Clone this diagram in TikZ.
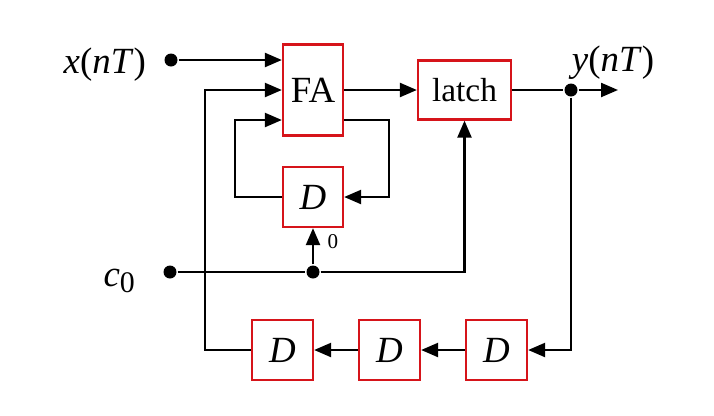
\documentclass[tikz,border=0pt]{standalone}
\usepackage{fontspec}
\setmainfont{Liberation Serif}
\definecolor{boxred}{RGB}{214,20,26}
\usetikzlibrary{arrows.meta, positioning, calc}

\begin{document}
\begin{tikzpicture}[
        line width=1.3pt,
        blk/.style={draw=boxred, fill=white, line width=1.3pt, inner sep=0pt,
                    font=\fontsize{21}{23}\selectfont},
        arr/.style={-{Triangle[length=0.34cm, width=0.28cm]}},
        dot/.style={circle, fill=black, inner sep=0pt, minimum size=0.26cm},
        lbl/.style={inner sep=0pt, font=\fontsize{21}{23}\selectfont}
      ]
        \useasboundingbox (0,0) rectangle (14.28,8.3);
        % blocks
        \node[blk, minimum width=1.2cm, minimum height=1.82cm] (fa) at (6.26,6.5) {FA};
        \node[blk, minimum width=1.86cm, minimum height=1.18cm,
              font=\fontsize{19}{21}\selectfont] (latch) at (9.29,6.5) {latch};
        \node[blk, minimum size=1.2cm] (dfb) at (6.26,4.36) {\textit{D}};
        \node[blk, minimum width=1.22cm, minimum height=1.2cm] (d3) at (9.93,1.3) {\textit{D}};
        \node[blk, minimum width=1.22cm, minimum height=1.2cm] (d2) at (7.79,1.3) {\textit{D}};
        \node[blk, minimum width=1.22cm, minimum height=1.2cm] (d1) at (5.65,1.3) {\textit{D}};
        % inputs and output
        \node[dot] (xin) at (3.42,7.1) {};
        \node[lbl, anchor=east] (xlbl) at (2.94,7.0) {\textit{x}(\textit{nT})};
        \node[dot] (cin) at (3.4,2.86) {};
        \node[lbl, anchor=east] (clbl) at (2.72,2.68)
          {\textit{c}\raisebox{-0.12cm}{\fontsize{17}{19}\selectfont 0}};
        \node[dot] (junc) at (6.26,2.86) {};
        \node[dot] (ydot) at (11.42,6.5) {};
        \coordinate (yend) at (12.36,6.5);
        \node[lbl] (ylbl) at (12.26,7.04) {\textit{y}(\textit{nT})};
        \node[inner sep=0pt, font=\fontsize{12}{14}\selectfont] (zero) at (6.66,3.46) {0};
        % connectors
        \draw[arr] (xin) -- (xin -| fa.west);
        \draw[arr] (fa) -- (latch);
        \draw (latch) -- (ydot);
        \draw[arr] (ydot) -- (yend);
        \draw[arr] ([yshift=-0.6cm]fa.east) -- ++(0.9,0) |- (dfb.east);
        \draw[arr] (dfb.west) -- ++(-0.94,0) |- ([yshift=-0.6cm]fa.west);
        \draw (cin) -- (junc);
        \draw[arr] (junc) -- (dfb.south);
        \draw[arr] (junc) -| (latch.south);
        \draw[arr] (ydot) |- (d3.east);
        \draw[arr] (d3) -- (d2);
        \draw[arr] (d2) -- (d1);
        \draw[arr] (d1.west) -- ++(-0.92,0) |- (fa.west);
      \end{tikzpicture}
\end{document}
